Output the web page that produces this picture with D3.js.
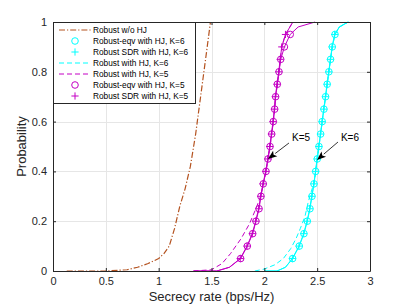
<!DOCTYPE html>
<html>
<head>
<meta charset="utf-8">
<script src="https://cdn.jsdelivr.net/npm/d3@7"></script>
<style>
  body { margin: 0; background: #fff; }
  text { font-family: "Liberation Sans", Arial, Helvetica, sans-serif; }
</style>
</head>
<body>
<div id="chart"></div>
<script>
// ---- data ----
var xTicks = [0, 0.5, 1, 1.5, 2, 2.5, 3];
var yTicks = [0, 0.2, 0.4, 0.6, 0.8, 1];

// Robust w/o HJ
var noHjX = [0.13, 0.5, 0.7, 0.8, 0.9, 1.0, 1.05, 1.1, 1.15, 1.2, 1.25, 1.3, 1.35, 1.4, 1.45, 1.49];
var noHjP = [0, 0, 0.005, 0.015, 0.03, 0.05, 0.07, 0.1, 0.17, 0.26, 0.33, 0.42, 0.55, 0.71, 0.87, 1.0];

// marker levels for the eqv / SDR curves
var markP = [0.05, 0.1, 0.15, 0.2, 0.25, 0.3, 0.35, 0.4, 0.45, 0.5, 0.55, 0.6, 0.65, 0.7, 0.75, 0.8, 0.85, 0.9, 0.95];

// K=5
var eqv5X = [1.776, 1.839, 1.89, 1.921, 1.95, 1.968, 1.99, 2.016, 2.035, 2.054, 2.07, 2.085, 2.098, 2.107, 2.123, 2.139, 2.155, 2.19, 2.245];
var sdr5X = [1.772, 1.836, 1.886, 1.918, 1.946, 1.965, 1.987, 2.013, 2.032, 2.051, 2.067, 2.082, 2.095, 2.104, 2.12, 2.136, 2.15, 2.165, 2.2];
var eqv5HeadX = [1.33, 1.55, 1.67], eqv5HeadP = [0, 0, 0.015];
var eqv5TailX = [2.32, 2.48], eqv5TailP = [0.98, 1.0];
var sdr5HeadX = [1.33, 1.55, 1.67], sdr5HeadP = [0, 0, 0.015];
var sdr5TailX = [2.27], sdr5TailP = [1.0];
var rob5X = [1.33, 1.5, 1.6, 1.68, 1.78, 1.86, 1.92, 1.965, 1.99, 2.016, 2.035, 2.054, 2.07, 2.085, 2.098, 2.107, 2.123, 2.139, 2.152, 2.165, 2.2, 2.27];
var rob5P = [0, 0.005, 0.03, 0.07, 0.13, 0.19, 0.25, 0.3, 0.35, 0.4, 0.45, 0.5, 0.55, 0.6, 0.65, 0.7, 0.75, 0.8, 0.85, 0.9, 0.95, 1.0];

// K=6
var eqv6X = [2.268, 2.331, 2.375, 2.407, 2.432, 2.451, 2.47, 2.486, 2.501, 2.517, 2.533, 2.548, 2.564, 2.58, 2.595, 2.611, 2.627, 2.643, 2.669];
var sdr6X = [2.265, 2.328, 2.372, 2.404, 2.429, 2.449, 2.468, 2.484, 2.499, 2.515, 2.531, 2.546, 2.562, 2.578, 2.593, 2.609, 2.625, 2.641, 2.665];
var eqv6HeadX = [2.0, 2.12, 2.2], eqv6HeadP = [0, 0, 0.015];
var eqv6TailX = [2.71, 2.795], eqv6TailP = [0.98, 1.0];
var sdr6HeadX = [2.0, 2.12, 2.2], sdr6HeadP = [0, 0, 0.015];
var sdr6TailX = [2.71, 2.79], sdr6TailP = [0.98, 1.0];
var rob6X = [1.91, 2.0, 2.1, 2.18, 2.25, 2.3, 2.34, 2.385, 2.416, 2.452, 2.47, 2.486, 2.501, 2.517, 2.533, 2.548, 2.564, 2.58, 2.595, 2.611, 2.627, 2.643, 2.669, 2.71, 2.795];
var rob6P = [0, 0.008, 0.025, 0.05, 0.09, 0.13, 0.17, 0.22, 0.278, 0.33, 0.35, 0.4, 0.45, 0.5, 0.55, 0.6, 0.65, 0.7, 0.75, 0.8, 0.85, 0.9, 0.95, 0.98, 1.0];

var legendLabels = ["Robust w/o HJ", "Robust-eqv with HJ, K=6", "Robust SDR with HJ, K=6",
    "Robust with HJ, K=6", "Robust with HJ, K=5", "Robust-eqv with HJ, K=5", "Robust SDR with HJ, K=5"];

var annotLabels = ["K=5", "K=6"];
var annotText = [[2.262, 0.522], [2.725, 0.522]];
var annotFrom = [[2.233, 0.514], [2.697, 0.518]];
var annotTip = [[2.035, 0.45], [2.498, 0.446]];

// ---- drawing ----
var brown = "#b4521f", cyan = "#00ffff", magenta = "#c400c4", axisCol = "#262626";

var margin = { top: 22, right: 39, bottom: 36, left: 53 },
    width = 409 - margin.left - margin.right,
    height = 307 - margin.top - margin.bottom;

var svg = d3.select("#chart")
    .append("svg")
    .attr("width", 409)
    .attr("height", 307)
    .append("g")
    .attr("transform", "translate(" + margin.left + "," + margin.top + ")");

var x = d3.scaleLinear().domain([0, 3]).range([0, width]);
var y = d3.scaleLinear().domain([0, 1]).range([height, 0]);

// grid
svg.append("g").selectAll("line").data(xTicks.slice(1, -1)).enter().append("line")
    .attr("x1", function (d) { return Math.round(x(d)) + 0.5; })
    .attr("x2", function (d) { return Math.round(x(d)) + 0.5; })
    .attr("y1", 0).attr("y2", height)
    .attr("stroke", "#e6e6e6");
svg.append("g").selectAll("line").data(yTicks.slice(1, -1)).enter().append("line")
    .attr("y1", function (d) { return Math.round(y(d)) + 0.5; })
    .attr("y2", function (d) { return Math.round(y(d)) + 0.5; })
    .attr("x1", 0).attr("x2", width)
    .attr("stroke", "#e6e6e6");

function pts(xs, ps) { return xs.map(function (v, i) { return [v, ps[i]]; }); }

var line = d3.line()
    .x(function (d) { return x(d[0]); })
    .y(function (d) { return y(d[1]); });

var plot = svg.append("g");

function drawLine(data, color, dash, w) {
    plot.append("path")
        .datum(data)
        .attr("fill", "none")
        .attr("stroke", color)
        .attr("stroke-width", w || 1)
        .attr("stroke-dasharray", dash)
        .attr("d", line);
}

function drawCircles(xs, color) {
    plot.append("g").selectAll("circle").data(pts(xs, markP)).enter().append("circle")
        .attr("cx", function (d) { return x(d[0]); })
        .attr("cy", function (d) { return y(d[1]); })
        .attr("r", 3.3)
        .attr("fill", "none")
        .attr("stroke", color);
}

function plusPath(cx, cy, s) {
    return "M" + (cx - s) + "," + cy + "H" + (cx + s) + "M" + cx + "," + (cy - s) + "V" + (cy + s);
}

function drawPlus(xs, color) {
    plot.append("g").selectAll("path").data(pts(xs, markP)).enter().append("path")
        .attr("d", function (d) { return plusPath(x(d[0]), y(d[1]), 3.6); })
        .attr("stroke", color)
        .attr("fill", "none");
}

// Robust w/o HJ
drawLine(pts(noHjX, noHjP), brown, "6,2,1.2,2", 1.2);

// K=6
drawLine(pts(rob6X, rob6P), cyan, "5,3");
drawLine(pts(eqv6HeadX, eqv6HeadP).concat(pts(eqv6X, markP), pts(eqv6TailX, eqv6TailP)), cyan, null);
drawLine(pts(sdr6HeadX, sdr6HeadP).concat(pts(sdr6X, markP), pts(sdr6TailX, sdr6TailP)), cyan, null);
drawCircles(eqv6X, cyan);
drawPlus(sdr6X, cyan);

// K=5
drawLine(pts(rob5X, rob5P), magenta, "5,3");
drawLine(pts(eqv5HeadX, eqv5HeadP).concat(pts(eqv5X, markP), pts(eqv5TailX, eqv5TailP)), magenta, null);
drawLine(pts(sdr5HeadX, sdr5HeadP).concat(pts(sdr5X, markP), pts(sdr5TailX, sdr5TailP)), magenta, null);
drawCircles(eqv5X, magenta);
drawPlus(sdr5X, magenta);

// axes box with inward ticks on all sides
var axB = svg.append("g").attr("transform", "translate(0," + height + ")")
    .call(d3.axisBottom(x).tickValues(xTicks).tickSizeInner(-3).tickSizeOuter(0).tickPadding(6).tickFormat(d3.format("")));
var axT = svg.append("g")
    .call(d3.axisTop(x).tickValues(xTicks).tickSizeInner(-3).tickSizeOuter(0).tickFormat(""));
var axL = svg.append("g")
    .call(d3.axisLeft(y).tickValues(yTicks).tickSizeInner(-3).tickSizeOuter(0).tickPadding(6).tickFormat(d3.format("")));
var axR = svg.append("g").attr("transform", "translate(" + width + ",0)")
    .call(d3.axisRight(y).tickValues(yTicks).tickSizeInner(-3).tickSizeOuter(0).tickFormat(""));
[axB, axT, axL, axR].forEach(function (a) {
    a.select(".domain").attr("stroke", axisCol);
    a.selectAll(".tick line").attr("stroke", axisCol);
    a.selectAll(".tick text").attr("fill", axisCol).style("font-size", "11px")
        .style("font-family", "'Liberation Sans', Arial, sans-serif");
});

// annotations
var ann = svg.append("g");
annotLabels.forEach(function (lab, i) {
    var x0 = x(annotFrom[i][0]), y0 = y(annotFrom[i][1]);
    var x1 = x(annotTip[i][0]), y1 = y(annotTip[i][1]);
    var ang = Math.atan2(y1 - y0, x1 - x0);
    var L = 9, W = 3.5;
    var bx = x1 - L * Math.cos(ang), by = y1 - L * Math.sin(ang);
    ann.append("line")
        .attr("x1", x0).attr("y1", y0).attr("x2", bx).attr("y2", by)
        .attr("stroke", "#000").attr("stroke-width", 0.8);
    ann.append("path")
        .attr("d", "M" + x1 + "," + y1 +
            "L" + (bx + W * Math.sin(ang)) + "," + (by - W * Math.cos(ang)) +
            "L" + (bx + 2 * Math.cos(ang)) + "," + (by + 2 * Math.sin(ang)) +
            "L" + (bx - W * Math.sin(ang)) + "," + (by + W * Math.cos(ang)) + "Z")
        .attr("fill", "#000");
    ann.append("text")
        .attr("x", x(annotText[i][0]))
        .attr("y", y(annotText[i][1]))
        .style("font-size", "10px")
        .attr("fill", "#000")
        .text(lab);
});

// legend
var lg = svg.append("g").attr("transform", "translate(0,0)");
lg.append("rect")
    .attr("x", 0.5).attr("y", 0.5)
    .attr("width", 142).attr("height", 81)
    .attr("fill", "#fff").attr("stroke", axisCol).attr("stroke-width", 1);

var legStyle = [
    { color: brown, dash: "6,2,1.2,2", line: true, mark: null },
    { color: cyan, line: false, mark: "o" },
    { color: cyan, line: false, mark: "+" },
    { color: cyan, dash: "5,3", line: true, mark: null },
    { color: magenta, dash: "5,3", line: true, mark: null },
    { color: magenta, line: false, mark: "o" },
    { color: magenta, line: false, mark: "+" }
];

var item = lg.selectAll(".lineLegend").data(legendLabels).enter().append("g")
    .attr("class", "lineLegend")
    .attr("transform", function (d, i) { return "translate(0," + (8 + i * 11) + ")"; });

item.each(function (d, i) {
    var g = d3.select(this), s = legStyle[i];
    if (s.line) {
        g.append("line").attr("x1", 6).attr("x2", 38).attr("y1", 0).attr("y2", 0)
            .attr("stroke", s.color).attr("stroke-dasharray", s.dash)
            .attr("stroke-width", i === 0 ? 1.2 : 1);
    }
    if (s.mark === "o") {
        g.append("circle").attr("cx", 22).attr("cy", 0).attr("r", 3.3)
            .attr("fill", "none").attr("stroke", s.color);
    }
    if (s.mark === "+") {
        g.append("path").attr("d", plusPath(22, 0, 3.6)).attr("stroke", s.color);
    }
    g.append("text").attr("x", 40).attr("y", 3.1)
        .style("font-size", "8.3px").attr("fill", "#000").text(d);
});

// axis labels
svg.append("text")
    .attr("x", width / 2).attr("y", height + 30)
    .style("text-anchor", "middle").style("font-size", "13px").attr("fill", axisCol)
    .text("Secrecy rate (bps/Hz)");
svg.append("text")
    .attr("transform", "rotate(-90)")
    .attr("x", -height / 2).attr("y", -27)
    .style("text-anchor", "middle").style("font-size", "13px").attr("fill", axisCol)
    .text("Probability");
</script>
</body>
</html>
